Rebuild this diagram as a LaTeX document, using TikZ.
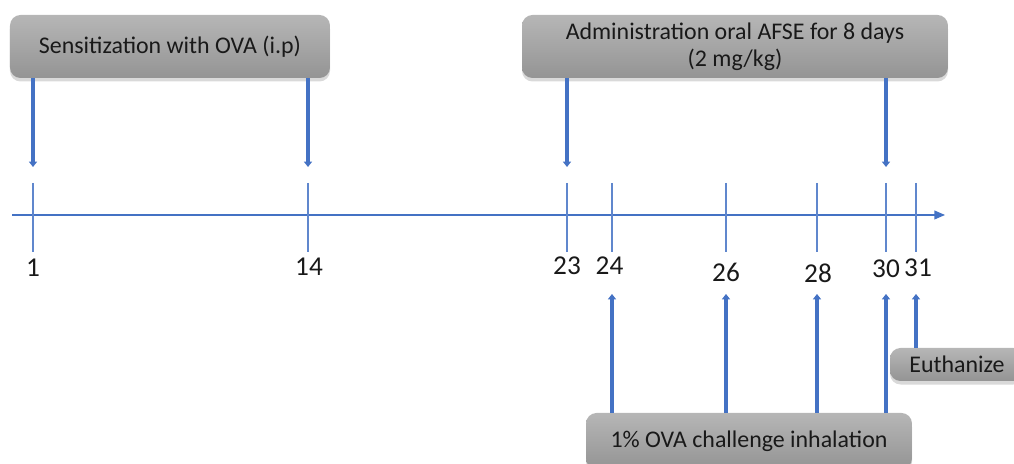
\documentclass[tikz,border=0pt]{standalone}
\usepackage{fontspec}
\setmainfont{Carlito}
\usetikzlibrary{arrows.meta,shadows}
\definecolor{axisblue}{HTML}{4472C4}
\definecolor{boxtop}{HTML}{B6B6B6}
\definecolor{boxbot}{HTML}{949494}
\tikzset{
  box/.style={rectangle,rounded corners=6pt,top color=boxtop,bottom color=boxbot,
    align=center,text=black!90,font=\fontsize{13.6}{15.5}\selectfont,
    drop shadow={shadow xshift=0pt,shadow yshift=-2pt,opacity=0.3}},
  day/.style={font=\fontsize{15.5}{18}\selectfont,text=black!90},
  tickline/.style={axisblue!85,line width=0.6pt},
  event/.style={-{Triangle[length=3pt,width=4.5pt]},axisblue,line width=1.8pt}
}
\begin{document}
\begin{tikzpicture}
\useasboundingbox (0,0) rectangle (20.28,9.28);

% time axis
\coordinate (start) at (0.24,4.98);
\coordinate (end) at (18.9,4.98);
\draw[-{Triangle[length=6pt,width=5pt]},axisblue,line width=0.7pt] (start)--(end);

\foreach \d/\x in {1/0.66,14/6.16,23/11.34,24/12.24,26/14.52,28/16.34,30/17.72,31/18.32}{
  \coordinate (top\d) at (\x,5.62);
  \coordinate (bot\d) at (\x,4.24);
  \draw[tickline] (top\d)--(bot\d);
}

\node[day] (n1) at (0.66,3.92) {1};
\node[day] (n14) at (6.18,3.94) {14};
\node[day] (n23) at (11.34,3.96) {23};
\node[day] (n24) at (12.19,3.96) {24};
\node[day] (n26) at (14.52,3.84) {26};
\node[day] (n28) at (16.36,3.82) {28};
\node[day] (n30) at (17.72,3.90) {30};
\node[day] (n31) at (18.36,3.92) {31};

% boxes
\node[box,minimum width=6.4cm,minimum height=1.26cm] (sens) at (3.4,8.35) {Sensitization with OVA (i.p)};
\node[box,minimum width=8.52cm,minimum height=1.26cm] (afse) at (14.7,8.35) {Administration oral AFSE for 8 days\\(2 mg/kg)};
\node[box,minimum width=6.52cm,minimum height=1.12cm] (chal) at (14.98,0.46) {1\% OVA challenge inhalation};
\node[box,minimum width=2.68cm,minimum height=0.66cm] (euth) at (19.14,1.99) {Euthanize};

% arrow ends
\coordinate (d1) at (0.66,5.94);
\coordinate (d14) at (6.16,5.94);
\coordinate (d23) at (11.34,5.94);
\coordinate (d30) at (17.72,5.94);
\coordinate (u24) at (12.24,3.4);
\coordinate (u26) at (14.52,3.4);
\coordinate (u28) at (16.34,3.4);
\coordinate (u30) at (17.72,3.4);
\coordinate (u31) at (18.32,3.4);

\draw[event] (sens.south -| d1)--(d1);
\draw[event] (sens.south -| d14)--(d14);
\draw[event] (afse.south -| d23)--(d23);
\draw[event] (afse.south -| d30)--(d30);
\draw[event] (chal.north -| u24)--(u24);
\draw[event] (chal.north -| u26)--(u26);
\draw[event] (chal.north -| u28)--(u28);
\draw[event] (chal.north -| u30)--(u30);
\draw[event] (euth.north -| u31)--(u31);
\end{tikzpicture}
\end{document}
